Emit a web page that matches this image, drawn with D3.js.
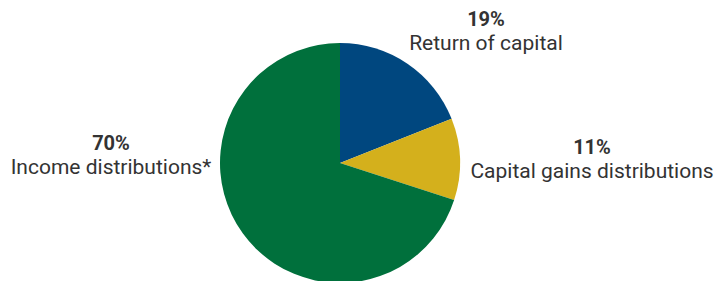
<!DOCTYPE html>
<html>
<head>
<meta charset="utf-8">
<script src="https://cdn.jsdelivr.net/npm/d3@7"></script>
<style>
  body { margin: 0; background: #fff; }
  text { font-family: Roboto, "Open Sans", sans-serif; fill: #333; }
</style>
</head>
<body>
<div class="chart"></div>
<script>
// data
var categories = ["Return of capital", "Capital gains distributions", "Income distributions*"];
var values = [19, 11, 70];
var colors = ["#00477f", "#d4b01c", "#00703c"];

var width = 715, height = 281;
var cx = 340, cy = 163, radius = 120;

// label anchors, relative to pie centre
var labelPos = [[146, -137], [252, -9], [-229, -13]];

var svg = d3.select(".chart").append("svg")
    .attr("width", width)
    .attr("height", height)
  .append("g")
    .attr("transform", "translate(" + cx + "," + cy + ")");

var pie = d3.pie().sort(null).value((d) => d.value);
var arc = d3.arc().innerRadius(0).outerRadius(radius);

var data = categories.map((c, i) => ({name: c, value: values[i], color: colors[i]}));

svg.selectAll("path.slice")
    .data(pie(data))
  .enter().append("path")
    .attr("class", "slice")
    .attr("d", arc)
    .style("fill", (d) => d.data.color);

var labels = svg.selectAll("g.label")
    .data(data)
  .enter().append("g")
    .attr("class", "label")
    .attr("transform", (d, i) => "translate(" + labelPos[i][0] + "," + labelPos[i][1] + ")");

labels.append("text")
    .attr("text-anchor", "middle")
    .style("font-size", "20px")
    .style("font-weight", "bold")
    .text((d) => d.value + "%");

labels.append("text")
    .attr("text-anchor", "middle")
    .attr("y", 24)
    .style("font-size", "21px")
    .text((d) => d.name);
</script>
</body>
</html>
